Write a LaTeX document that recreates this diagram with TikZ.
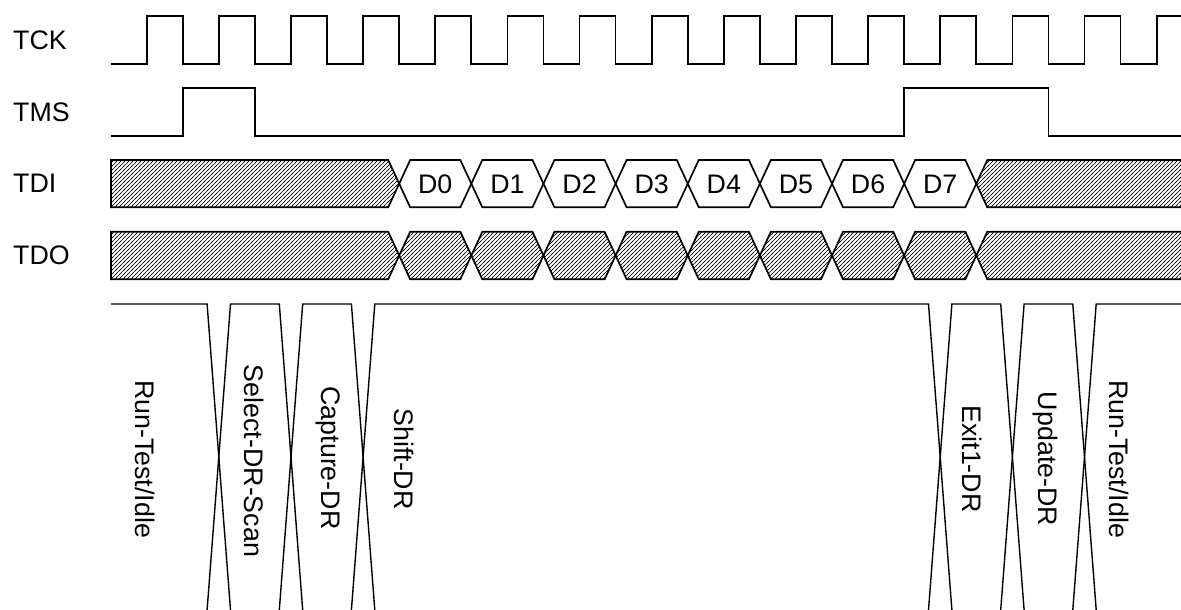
\documentclass[tikz,border=0pt]{standalone}
\usepackage{fontspec}
\setmainfont{Liberation Sans}
\usetikzlibrary{patterns}
\pgfdeclarepatternformonly{hatchne}{\pgfpoint{-1pt}{-1pt}}{\pgfpoint{5pt}{5pt}}{\pgfpoint{4pt}{4pt}}{%
  \pgfsetlinewidth{0.6pt}%
  \pgfpathmoveto{\pgfpoint{-1pt}{-1pt}}%
  \pgfpathlineto{\pgfpoint{5pt}{5pt}}%
  \pgfusepath{stroke}}
\begin{document}
\begin{tikzpicture}[x=1pt,y=-1pt,
  sig/.style={line width=1.7pt, line join=miter},
  stline/.style={line width=1.4pt, line join=miter},
  hatchfill/.style={pattern=hatchne},
  lbl/.style={font=\fontsize{26.8}{30}\selectfont, inner sep=0pt},
  sname/.style={lbl, anchor=west, text height=19.2pt, text depth=0pt},
  dname/.style={lbl, text height=19.2pt, text depth=0pt},
  stname/.style={lbl, rotate=-90}]
\useasboundingbox (0,0) rectangle (1181,610);
\def\Tp{72.14}
\def\Rz{146.7}
\def\w{11}
\def\sw{11.7}
% signal names
\node[sname] (tck) at (13,39.5) {TCK};
\node[sname] (tms) at (13,111.5) {TMS};
\node[sname] (tdi) at (13,183.2) {TDI};
\node[sname] (tdo) at (13,255) {TDO};
% TCK
\draw[sig] (111,64)
  \foreach \k in {0,...,13} {
    -- ({\Rz+\Tp*\k},64) -- ({\Rz+\Tp*\k},16)
    -- ({\Rz+\Tp*\k+\Tp/2},16) -- ({\Rz+\Tp*\k+\Tp/2},64) }
  -- ({\Rz+\Tp*14},64) -- ({\Rz+\Tp*14},16) -- (1183,16);
% TMS
\draw[sig] (111,136) -- (183.3,136) -- (183.3,88) -- (255,88) -- (255,136)
  -- (904.3,136) -- (904.3,88) -- (1048.6,88) -- (1048.6,136) -- (1183,136);
% TDI and TDO bus shapes
\foreach \yt/\ym/\yb/\isdo in {160/183.7/207.3/0, 231.7/255.5/279.3/1} {
  \pgfmathsetmacro{\bs}{\Rz+\Tp/2+3*\Tp}
  \draw[sig, hatchfill] (111,\yt) -- ({\bs-\w},\yt) -- (\bs,\ym) -- ({\bs-\w},\yb) -- (111,\yb) -- cycle;
  \foreach \k in {0,...,7} {
    \pgfmathsetmacro{\ba}{\bs+\Tp*\k}
    \pgfmathsetmacro{\bb}{\bs+\Tp*(\k+1)}
    \ifnum\isdo=1
      \draw[sig, hatchfill] (\ba,\ym) -- ({\ba+\w},\yt) -- ({\bb-\w},\yt) -- (\bb,\ym) -- ({\bb-\w},\yb) -- ({\ba+\w},\yb) -- cycle;
    \else
      \draw[sig] (\ba,\ym) -- ({\ba+\w},\yt) -- ({\bb-\w},\yt) -- (\bb,\ym) -- ({\bb-\w},\yb) -- ({\ba+\w},\yb) -- cycle;
      \node[dname] (d\k) at ({(\ba+\bb)/2},\ym) {D\k};
    \fi
  }
  \pgfmathsetmacro{\be}{\bs+\Tp*8}
  \fill[hatchfill] (\be,\ym) -- ({\be+\w},\yt) -- (1190,\yt) -- (1190,\yb) -- ({\be+\w},\yb) -- cycle;
  \draw[sig] (1183,\yt) -- ({\be+\w},\yt) -- (\be,\ym) -- ({\be+\w},\yb) -- (1183,\yb);
}
% state boundaries
\def\ca{218.8}\def\cb{291}\def\cc{363.1}\def\cd{940.2}\def\ce{1012.4}\def\cf{1084.5}
\draw[stline] (111,304) -- ({\ca-\sw},304) -- ({\ca+\sw},610);
\draw[stline] ({\ca-\sw},610) -- ({\ca+\sw},304) -- ({\cb-\sw},304) -- ({\cb+\sw},610);
\draw[stline] ({\cb-\sw},610) -- ({\cb+\sw},304) -- ({\cc-\sw},304) -- ({\cc+\sw},610);
\draw[stline] ({\cc-\sw},610) -- ({\cc+\sw},304) -- ({\cd-\sw},304) -- ({\cd+\sw},610);
\draw[stline] ({\cd-\sw},610) -- ({\cd+\sw},304) -- ({\ce-\sw},304) -- ({\ce+\sw},610);
\draw[stline] ({\ce-\sw},610) -- ({\ce+\sw},304) -- ({\cf-\sw},304) -- ({\cf+\sw},610);
\draw[stline] ({\cf-\sw},610) -- ({\cf+\sw},304) -- (1183,304);
% state names
\node[stname] (s1) at (145.5,459) {Run-Test/Idle};
\node[stname] (s2) at (254,461) {Select-DR-Scan};
\node[stname] (s3) at (328,458) {Capture-DR};
\node[stname] (s4) at (404,459) {Shift-DR};
\node[stname] (s5) at (972,459) {Exit1-DR};
\node[stname] (s6) at (1045,459) {Update-DR};
\node[stname] (s7) at (1119,459) {Run-Test/Idle};
\end{tikzpicture}
\end{document}
